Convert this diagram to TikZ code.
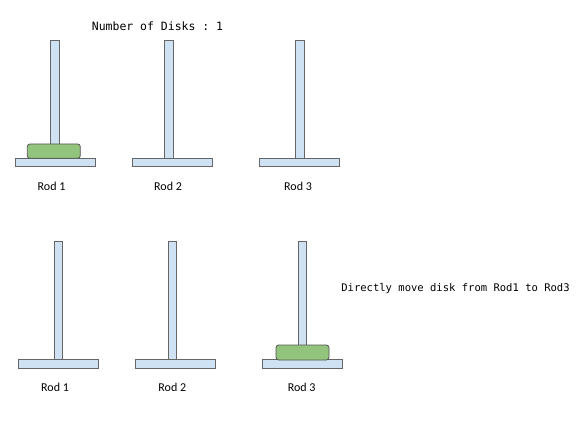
\documentclass[tikz,border=0pt]{standalone}
\usepackage{fontspec}
\setsansfont{Carlito}
\setmonofont{DejaVu Sans Mono}
\usetikzlibrary{positioning}
\definecolor{rodblue}{HTML}{CFE2F3}
\definecolor{rodline}{HTML}{666666}
\definecolor{diskgreen}{HTML}{93C47D}
\definecolor{diskline}{HTML}{555555}

\begin{document}
\begin{tikzpicture}[x=0.75pt,y=-0.75pt,
  rodpart/.style={draw=rodline,fill=rodblue,line width=0.6pt},
  disk/.style={draw=diskline,fill=diskgreen,line width=0.6pt,rounded corners=2pt},
  rodlabel/.style={font=\sffamily\fontsize{9}{10}\selectfont},
  monotext/.style={font=\ttfamily\fontsize{8.6}{10}\selectfont}]
  \useasboundingbox (0,0) rectangle (580,423);
  % top row: disk on Rod 1
  \node[monotext] (title) at (157.5,26) {Number of Disks : 1};
  \foreach \n/\px/\bx/\lx in {1/55.2/55.5/51.5,2/169.2/172.3/168,3/299.5/299.5/298} {
    \draw[rodpart] (\px-4.5,40) rectangle (\px+4.5,158.3);
    \draw[rodpart] (\bx-40,158.3) rectangle (\bx+40,166.7);
    \node[rodlabel] (toplbl\n) at (\lx,186) {Rod \n};
  }
  \draw[disk] (27.3,144) rectangle (80.3,158.3);
  % bottom row: disk moved to Rod 3
  \foreach \n/\px/\bx/\lx in {1/58.2/58.3/55,2/172.5/175.7/172.3,3/302.5/302.5/301.7} {
    \draw[rodpart] (\px-4.2,241) rectangle (\px+4.2,359.5);
    \draw[rodpart] (\bx-40,359.5) rectangle (\bx+40,368);
    \node[rodlabel] (botlbl\n) at (\lx,387.5) {Rod \n};
  }
  \draw[disk] (276,345) rectangle (329,360);
  \node[monotext,font=\ttfamily\fontsize{7.9}{10}\selectfont] (movetext) at (455.5,289) {Directly move disk from Rod1 to Rod3};
\end{tikzpicture}
\end{document}
